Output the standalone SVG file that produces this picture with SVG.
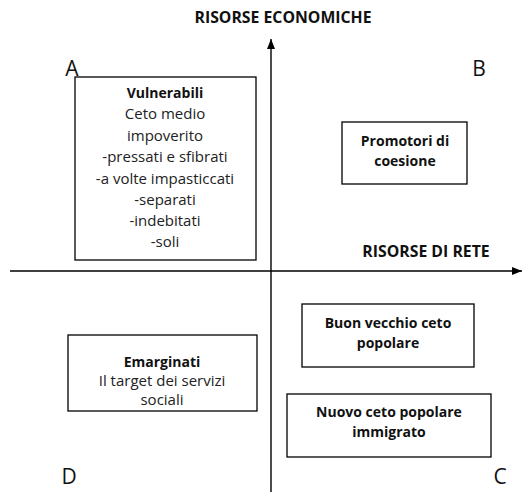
<svg xmlns="http://www.w3.org/2000/svg" width="532" height="497" viewBox="0 0 532 497">
<style>
.box{fill:#fff;stroke:#000;stroke-width:1.3}
.t{font-family:"Open Sans","Liberation Sans",sans-serif;font-size:15px;fill:#222;text-anchor:middle;dominant-baseline:middle}
.b{font-weight:bold;fill:#111;font-size:14px}
.h{font-weight:bold;fill:#111;font-size:15.8px}
.q{font-family:"Open Sans","Liberation Sans",sans-serif;font-size:21px;fill:#111;text-anchor:middle;dominant-baseline:middle}
.ax{stroke:#000;stroke-width:1.4;fill:none}
</style>
<defs>
<marker id="ah" viewBox="0 0 10 8" refX="10" refY="4" markerWidth="10" markerHeight="8" markerUnits="userSpaceOnUse" orient="auto">
<path d="M0,0 L10,4 L0,8 Z" fill="#000"/>
</marker>
</defs>
<rect width="532" height="497" fill="#fff"/>
<g id="connectors">
<line class="ax" x1="271" y1="492" x2="271" y2="39" marker-end="url(#ah)"/>
<line class="ax" x1="10" y1="271" x2="522" y2="271" marker-end="url(#ah)"/>
</g>
<g id="axis-labels">
<text class="t h" x="283" y="19">RISORSE ECONOMICHE</text>
<text class="t h" x="426" y="253">RISORSE DI RETE</text>
</g>
<g id="quadrants">
<text class="q" x="72" y="70">A</text>
<text class="q" x="479" y="70">B</text>
<text class="q" x="500" y="478">C</text>
<text class="q" x="69" y="478">D</text>
</g>
<g id="vulnerabili">
<rect class="box" x="75" y="77" width="181" height="183"/>
<text class="t b" x="165" y="94">Vulnerabili</text>
<text class="t" x="165" y="115">Ceto medio</text>
<text class="t" x="165" y="137">impoverito</text>
<text class="t" x="165" y="158">-pressati e sfibrati</text>
<text class="t" x="165" y="180">-a volte impasticcati</text>
<text class="t" x="165" y="201">-separati</text>
<text class="t" x="165" y="222">-indebitati</text>
<text class="t" x="165" y="243">-soli</text>
</g>
<g id="promotori">
<rect class="box" x="342" y="122" width="125" height="62"/>
<text class="t b" x="405" y="142">Promotori di</text>
<text class="t b" x="405" y="162">coesione</text>
</g>
<g id="emarginati">
<rect class="box" x="68" y="335" width="189" height="76"/>
<text class="t b" x="162" y="363">Emarginati</text>
<text class="t" x="162" y="382">Il target dei servizi</text>
<text class="t" x="162" y="401">sociali</text>
</g>
<g id="buon-vecchio">
<rect class="box" x="302" y="304" width="172" height="63"/>
<text class="t b" x="388" y="324">Buon vecchio ceto</text>
<text class="t b" x="388" y="344">popolare</text>
</g>
<g id="nuovo-ceto">
<rect class="box" x="287" y="394" width="204" height="63"/>
<text class="t b" x="389" y="413">Nuovo ceto popolare</text>
<text class="t b" x="389" y="433">immigrato</text>
</g>
</svg>
